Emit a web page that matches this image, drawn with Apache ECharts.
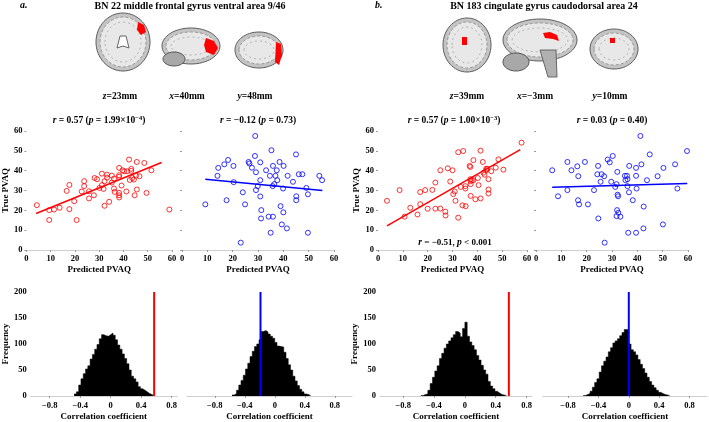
<!DOCTYPE html>
<html>
<head>
<meta charset="utf-8">
<script src="https://cdn.jsdelivr.net/npm/echarts@6/dist/echarts.min.js"></script>
<style>
html,body{margin:0;padding:0;background:#fff}
#main{width:709px;height:422px}
</style>
</head>
<body>
<div id="main"></div>
<script>
// scatter values: [predicted PVAQ, true PVAQ]
const scatterA1 = [[4.3,22.6],[9.4,20.1],[9.4,15.1],[11.4,20.4],[13.7,21.3],[16.6,29.8],[17.7,32.8],[17.7,20.6],[19.7,24.6],[20.7,15.1],
    [22.8,29.5],[23.8,34.7],[23.8,32.2],[25.8,29.6],[25.8,26.0],[27.8,27.6],[28.1,36.3],[29.1,35.7],[30.1,31.3],[31.1,38.5],
    [31.1,32.7],[31.8,30.8],[32.2,22.3],[32.2,34.7],[33.2,38.0],[33.2,36.5],[34.1,24.3],[35.2,37.5],[35.2,34.0],[36.1,36.0],
    [36.1,31.0],[36.4,29.3],[38.2,41.4],[38.2,37.7],[38.2,36.9],[38.2,28.8],[38.2,27.6],[38.2,26.5],[39.2,32.5],[39.6,40.2],
    [40.3,39.7],[41.2,29.5],[41.5,39.7],[42.3,45.6],[42.6,35.3],[43.2,40.9],[43.2,39.9],[43.6,36.3],[44.3,35.5],[44.6,27.6],
    [45.2,37.5],[45.5,44.4],[45.5,30.5],[46.6,37.2],[48.6,43.9],[49.5,28.8],[51.5,40.2],[58.9,20.4]]
const scatterA2 = [[9.2,23.0],[14.0,37.4],[14.3,41.4],[16.7,43.2],[18.2,45.4],[17.6,25.1],[20.3,42.4],[20.4,34.2],[24.0,29.1],[23.2,3.7],
    [24.9,23.0],[26.3,44.4],[26.6,43.6],[27.6,41.5],[28.8,47.4],[28.9,57.5],[29.2,39.2],[29.2,30.2],[29.9,32.2],[30.9,44.2],
    [30.9,35.2],[30.9,27.0],[31.3,20.1],[31.2,15.9],[33.2,40.2],[34.2,16.8],[34.7,37.4],[35.3,50.3],[35.0,8.7],[35.8,32.2],
    [35.9,16.8],[35.9,42.4],[36.4,33.2],[36.9,37.4],[37.4,40.2],[37.6,35.2],[38.5,44.4],[38.9,22.1],[39.4,12.9],[39.9,31.0],
    [40.0,19.0],[40.1,42.4],[41.4,10.9],[41.7,37.4],[43.8,34.4],[45.0,48.2],[45.1,27.1],[45.1,25.1],[46.1,38.2],[47.5,38.2],
    [49.1,31.3],[49.7,28.1],[49.7,8.7],[54.2,37.4],[55.3,35.2]]
const scatterB1 = [[3.6,24.8],[8.7,30.2],[10.7,16.8],[13.0,21.3],[15.9,17.9],[17.0,23.1],[17.0,29.2],[19.0,30.2],[20.0,20.8],[21.9,30.3],
    [23.1,34.0],[23.1,20.8],[25.1,20.9],[25.1,40.2],[27.1,19.3],[27.2,17.4],[28.1,41.2],[29.1,34.5],[30.0,40.2],[30.3,28.2],
    [30.9,29.5],[31.2,24.8],[32.3,16.3],[32.3,49.3],[33.3,31.8],[34.0,22.5],[34.3,49.9],[35.2,32.2],[35.2,31.0],[35.3,22.1],
    [36.9,42.4],[37.2,41.9],[37.2,35.7],[37.3,34.7],[37.3,33.2],[37.3,27.3],[37.8,35.2],[38.4,45.3],[38.4,35.2],[39.2,25.6],
    [40.2,36.3],[40.5,32.7],[41.3,26.0],[41.3,50.1],[42.2,44.4],[42.5,39.0],[42.9,38.0],[43.6,41.0],[43.6,40.2],[44.0,40.9],
    [44.5,35.7],[44.5,30.5],[44.5,28.5],[45.6,39.7],[47.4,41.5],[48.5,45.7],[50.5,40.5],[57.8,54.1]]
const scatterB2 = [[6.4,40.2],[8.7,27.1],[12.4,44.4],[12.4,30.2],[14.0,40.2],[16.3,42.2],[16.6,25.1],[16.7,37.2],[17.0,23.0],[19.3,44.4],
    [22.9,30.2],[20.5,23.0],[24.2,38.2],[24.5,42.4],[24.6,15.9],[25.5,34.4],[25.9,38.2],[26.9,37.2],[27.1,3.7],[28.3,45.6],
    [29.1,44.2],[29.7,34.4],[30.3,47.4],[31.3,31.8],[31.8,33.2],[32.0,20.1],[32.1,39.4],[32.2,27.9],[32.4,27.1],[31.8,17.1],
    [32.5,18.8],[33.3,16.8],[35.1,37.4],[35.3,35.2],[36.1,35.7],[35.9,37.4],[36.1,32.2],[36.4,8.7],[36.7,29.1],[36.8,42.4],
    [38.2,25.1],[39.5,37.4],[39.5,41.4],[39.7,31.0],[39.5,8.7],[41.2,57.5],[41.6,43.2],[42.4,10.9],[42.5,21.9],[43.8,35.2],
    [44.9,48.2],[48.0,37.2],[50.1,12.9],[50.3,41.4],[54.9,43.2],[55.8,31.0],[59.6,49.9]]

// regression line end points
const fitA1 = [[4,18.4],[55.7,44.1]]
const fitA2 = [[9.2,35.7],[55.4,30.0]]
const fitB1 = [[3.6,12.2],[57.3,50.6]]
const fitB2 = [[6.4,31.7],[59.7,33.5]]

// permutation histograms: first bin edge and bar heights
const binWidth = 0.03
const histStartA1 = -0.48
const histA1 = [4,8,21,33,43,52,58,71,80,90,99,110,118,116,115,118,121,117,108,98,90,81,72,62,50,38,33,27,18,14,11,8,5,3,1]
const histStartA2 = -0.57
const histA2 = [2,5,11,21,30,40,52,63,76,86,95,100,108,124,126,123,119,115,111,103,96,95,94,84,72,60,50,38,29,20,13,8,4,3,1]
const histStartB1 = -0.57
const histB1 = [1,3,4,11,24,36,48,58,72,82,92,100,106,112,118,124,121,114,130,142,115,104,97,89,78,69,59,50,42,28,19,14,9,6,3,2,1]
const histStartB2 = -0.6
const histB2 = [1,3,5,9,17,26,33,46,58,67,75,85,93,102,106,110,116,122,128,128,100,89,85,79,70,61,53,44,36,28,21,16,11,7,5,3,2,1]

// observed r marked on each histogram
const obsA1 = 0.57, obsA2 = -0.19, obsB1 = 0.57, obsB2 = 0.0

const histTicks = [-0.8,-0.4,0,0.4,0.8]

const serif = '"Liberation Serif","DejaVu Serif",serif'
const RED = '#ff0000', BLUE = '#0000ff'

// bin left edges with heights, plus closing point at the last right edge
function steps(start, heights){
    let pts = heights.map((h,i)=>[start+i*binWidth, h])
    pts.push([start+heights.length*binWidth, heights[heights.length-1]])
    return pts
}
function minus(v){ return String(v).replace('-', '\u2212') }

let box = document.querySelector('#main')
let myChart = echarts.init(box)

const labelStyle = {fontFamily:serif, fontWeight:'bold', fontSize:8.5, color:'#000'}
const nameStyle = {fontFamily:serif, fontWeight:'bold', fontSize:9, color:'#000'}

// grids: scatter row then histogram row
const grids = [
    {left:23, top:131, width:149, height:119},
    {left:182, top:131, width:152, height:119},
    {left:378, top:131, width:149, height:119},
    {left:536, top:131, width:152, height:119},
    {left:25, top:292, width:152, height:106},
    {left:187, top:292, width:165, height:106},
    {left:380, top:292, width:152, height:106},
    {left:543, top:292, width:164, height:106}
]
const histRange = [[-1.05,0.87],[-1.17,1.03],[-1.1,0.87],[-1.13,1.03]]

let xAxes = [], yAxes = []
for(let i=0;i<4;i++){
    xAxes.push({
        gridIndex:i, type:'value', min:0, max:60, interval:10,
        name:'Predicted PVAQ', nameLocation:'middle', nameGap:15, nameTextStyle:nameStyle,
        axisLine:{onZero:false, lineStyle:{color:'#cfcfcf', width:1}},
        axisTick:{length:2, lineStyle:{color:'#999'}},
        axisLabel:Object.assign({margin:4}, labelStyle),
        splitLine:{show:false}
    })
    yAxes.push({
        gridIndex:i, type:'value', min:0, max:60, interval:10,
        name: i%2===0 ? 'True PVAQ' : '', nameLocation:'middle', nameGap:15, nameTextStyle:nameStyle,
        axisLine:{show:false, onZero:false},
        axisTick:{show:true, length:2, lineStyle:{color:'#999'}},
        axisLabel:Object.assign({show:i%2===0, margin:4}, labelStyle),
        splitLine:{show:false}
    })
}
for(let i=0;i<4;i++){
    xAxes.push({
        gridIndex:4+i, type:'value', min:histRange[i][0], max:histRange[i][1],
        name:'Correlation coefficient', nameLocation:'middle', nameGap:16, nameTextStyle:nameStyle,
        axisLine:{onZero:false, lineStyle:{color:'#cfcfcf', width:1}},
        axisTick:{length:2, lineStyle:{color:'#999'}, customValues:histTicks},
        axisLabel:Object.assign({margin:5, customValues:histTicks, formatter:minus}, labelStyle),
        splitLine:{show:false}
    })
    yAxes.push({
        gridIndex:4+i, type:'value', min:0, max:200, interval:50,
        name: i%2===0 ? 'Frequency' : '', nameLocation:'middle', nameGap:17, nameTextStyle:nameStyle,
        axisLine:{show:false, onZero:false},
        axisTick:{show:false},
        axisLabel:Object.assign({show:i%2===0, margin:4}, labelStyle),
        splitLine:{show:false}
    })
}

function scatterSeries(idx, data, color){
    return {type:'scatter', xAxisIndex:idx, yAxisIndex:idx, data:data, symbol:'circle', symbolSize:5,
        itemStyle:{color:'rgba(0,0,0,0)', borderColor:color, borderWidth:1}, silent:true}
}
function fitSeries(idx, data, color){
    return {type:'line', xAxisIndex:idx, yAxisIndex:idx, data:data, symbol:'none',
        lineStyle:{color:color, width:1.5}, silent:true}
}
// histogram drawn as a filled step outline
function histSeries(idx, data){
    return {type:'line', xAxisIndex:idx, yAxisIndex:idx, data:data, step:'end', symbol:'none',
        lineStyle:{color:'#000', width:0.5}, areaStyle:{color:'#000', opacity:1}, silent:true}
}
function obsSeries(idx, r, color){
    return {type:'line', xAxisIndex:idx, yAxisIndex:idx, data:[[r,0],[r,200]], symbol:'none',
        lineStyle:{color:color, width:2}, silent:true, z:5}
}

// texts
const rich = {
    i:{fontFamily:serif, fontWeight:'bold', fontStyle:'italic', fontSize:9.5, fill:'#000'},
    b:{fontFamily:serif, fontWeight:'bold', fontSize:9.5, fill:'#000'},
    s:{fontFamily:serif, fontWeight:'bold', fontSize:6.5, fill:'#000', padding:[0,0,5,0]}
}
function txt(x, y, text, size){
    return {type:'text', x:x, y:y, silent:true,
        style:{text:text, rich:rich, align:'center', verticalAlign:'middle',
            fontFamily:serif, fontWeight:'bold', fontSize:size||9.5, fill:'#000'}}
}

// simplified brain slices
function brain(cx, cy, rx, ry){
    return [
        {type:'ellipse', silent:true, shape:{cx:cx, cy:cy, rx:rx, ry:ry}, style:{fill:'#c4c4c4', stroke:'#5e5e5e', lineWidth:1}},
        {type:'ellipse', silent:true, shape:{cx:cx, cy:cy, rx:rx-4, ry:ry-4}, style:{fill:'#e8e8e8', stroke:'#8a8a8a', lineWidth:0.8, lineDash:[3,2]}},
        {type:'ellipse', silent:true, shape:{cx:cx, cy:cy, rx:rx-9, ry:ry-9}, style:{fill:'none', stroke:'#a5a5a5', lineWidth:0.8, lineDash:[2,3]}}
    ]
}
function patch(points){
    return {type:'polygon', silent:true, shape:{points:points}, style:{fill:RED}, z:10}
}

let graphics = [
    {type:'text', left:20, top:0, style:{text:'a.', fontFamily:serif, fontWeight:'bold', fontStyle:'italic', fontSize:10, fill:'#000'}},
    {type:'text', left:375, top:0, style:{text:'b.', fontFamily:serif, fontWeight:'bold', fontStyle:'italic', fontSize:10, fill:'#000'}},
    txt(190, 6, 'BN 22 middle frontal gyrus ventral area 9/46', 10),
    txt(544, 6, 'BN 183 cingulate gyrus caudodorsal area 24', 10),
    txt(120, 97, '{i|z}=23mm'), txt(187, 97, '{i|x}=40mm'), txt(255, 97, '{i|y}=48mm'),
    txt(467, 97, '{i|z}=39mm'), txt(535, 97, '{i|x}=\u22123mm'), txt(610, 97, '{i|y}=10mm'),
    txt(99, 121, '{i|r} = 0.57 ({i|p} = 1.99×10{s|\u22124})'),
    txt(258, 121, '{i|r} = \u22120.12 ({i|p} = 0.73)'),
    txt(454, 121, '{i|r} = 0.57 ({i|p} = 1.00×10{s|\u22123})'),
    txt(612, 121, '{i|r} = 0.03 ({i|p} = 0.40)'),
    txt(455, 243, '{i|r} = \u22120.51, {i|p} < 0.001', 9)
]
graphics = graphics.concat(
    brain(123, 42, 27, 29), brain(191, 46, 29, 18), brain(259, 50, 24, 18),
    brain(467, 45, 24, 27), brain(540, 40, 37, 21), brain(614, 49, 24, 20)
)
graphics.push(
    {type:'ellipse', silent:true, shape:{cx:174, cy:59, rx:11, ry:7}, style:{fill:'#a8a8a8', stroke:'#555'}},
    {type:'polygon', silent:true, shape:{points:[[120,36],[126,36],[129,48],[123,46],[117,48]]}, style:{fill:'#fff', stroke:'#666'}},
    {type:'ellipse', silent:true, shape:{cx:516, cy:62, rx:13, ry:9}, style:{fill:'#a8a8a8', stroke:'#555'}},
    {type:'polygon', silent:true, shape:{points:[[540,50],[556,50],[557,77],[548,77]]}, style:{fill:'#b0b0b0', stroke:'#666'}},
    patch([[138,22],[144,25],[146,32],[141,35],[137,30]]),
    patch([[206,38],[214,41],[218,48],[214,55],[206,52],[204,45]]),
    patch([[276,42],[281,44],[282,55],[279,65],[275,62]]),
    patch([[462,37],[467,37],[467,45],[462,45]]),
    patch([[543,33],[550,32],[557,35],[559,41],[553,39],[545,38]]),
    patch([[610,38],[615,38],[615,43],[610,43]])
)

let option = {
    animation:false,
    backgroundColor:'#fff',
    grid:grids,
    xAxis:xAxes,
    yAxis:yAxes,
    series:[
        scatterSeries(0, scatterA1, RED), fitSeries(0, fitA1, RED),
        scatterSeries(1, scatterA2, BLUE), fitSeries(1, fitA2, BLUE),
        scatterSeries(2, scatterB1, RED), fitSeries(2, fitB1, RED),
        scatterSeries(3, scatterB2, BLUE), fitSeries(3, fitB2, BLUE),
        histSeries(4, steps(histStartA1, histA1)), obsSeries(4, obsA1, RED),
        histSeries(5, steps(histStartA2, histA2)), obsSeries(5, obsA2, BLUE),
        histSeries(6, steps(histStartB1, histB1)), obsSeries(6, obsB1, RED),
        histSeries(7, steps(histStartB2, histB2)), obsSeries(7, obsB2, BLUE)
    ],
    graphic:graphics
}
myChart.setOption(option)
</script>
</body>
</html>
